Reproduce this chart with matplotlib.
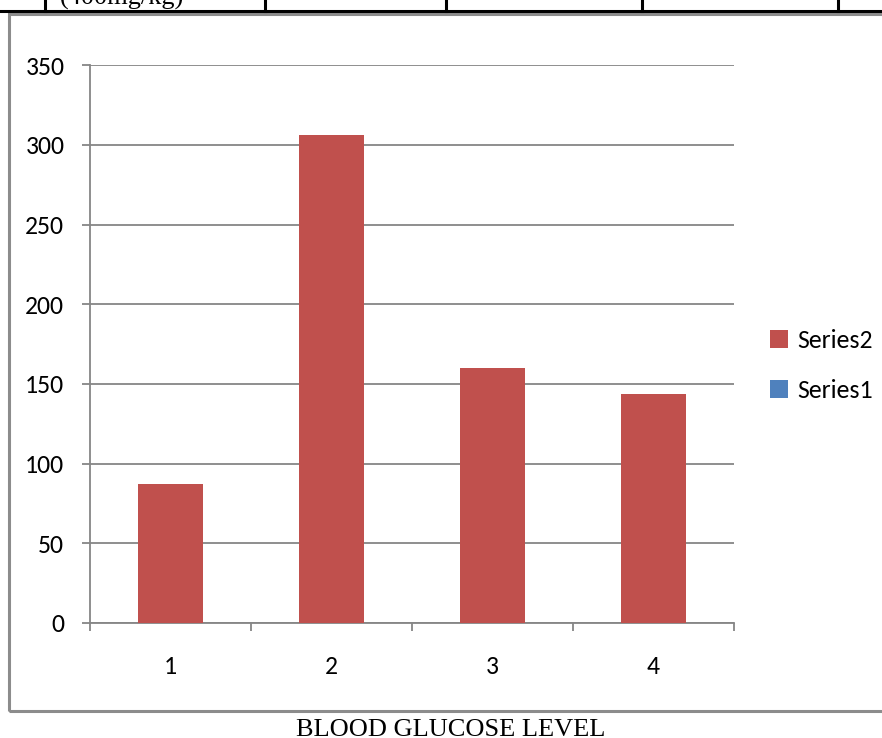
import matplotlib
matplotlib.use("Agg")
import matplotlib.pyplot as plt
from matplotlib.patches import Rectangle, Patch
from matplotlib.lines import Line2D

categories = ["1", "2", "3", "4"]
series2 = [87, 306, 160, 144]
series_names = ["Series2", "Series1"]
yticks = [0, 50, 100, 150, 200, 250, 300, 350]
caption = "BLOOD GLUCOSE LEVEL"
table_cell_text = "(400mg/kg)"

RED = "#C0504D"
BLUE = "#4F81BD"
GRID = "#868686"

plt.rcParams["font.family"] = ["Carlito", "Lato", "DejaVu Sans"]

W, H = 882, 738
fig = plt.figure(figsize=(W / 100, H / 100), dpi=100)

def fx(px):
    return px / W

def fy(py):
    return 1 - py / H

# table row fragment at the top of the page
fig.add_artist(Line2D([0, 1], [fy(10.5), fy(10.5)], color="black", lw=2.2,
                      transform=fig.transFigure))
for xv in [45, 265, 446, 642, 838]:
    fig.add_artist(Line2D([fx(xv), fx(xv)], [fy(0), fy(10.5)], color="black",
                          lw=2.2, transform=fig.transFigure))
fig.text(fx(60), fy(5), table_cell_text, family=["Liberation Serif"],
         fontsize=19, ha="left", va="baseline")

# chart frame
fig.add_artist(Rectangle((fx(8.5), fy(711)), fx(900), fy(13.5) - fy(711),
                         fill=False, edgecolor="#8C8C8C", lw=2.2,
                         transform=fig.transFigure))

ax = fig.add_axes([fx(90), fy(623), fx(734) - fx(90), fy(65.3) - fy(623)])
x = list(range(1, len(categories) + 1))
ax.bar(x, series2, width=0.4, color=RED, zorder=3)
ax.set_xlim(0.5, len(categories) + 0.5)
ax.set_ylim(0, 350)
ax.set_yticks(yticks)
ax.set_yticklabels([str(v) for v in yticks])
ax.yaxis.grid(True, color=GRID, lw=1.3, zorder=0)
ax.set_axisbelow(True)

for s in ["top", "right"]:
    ax.spines[s].set_visible(False)
for s in ["left", "bottom"]:
    ax.spines[s].set_color(GRID)
    ax.spines[s].set_linewidth(1.3)

ax.tick_params(axis="y", direction="out", length=6, width=1.3, color=GRID,
               pad=12.5, labelsize=18.5)
# category boundaries carry the tick marks, labels sit at centers
ax.set_xticks([i + 0.5 for i in range(len(categories) + 1)])
ax.set_xticklabels([])
ax.set_xticks(x, minor=True)
ax.set_xticklabels(categories, minor=True)
ax.tick_params(axis="x", which="major", direction="out", length=6, width=1.3,
               color=GRID)
ax.tick_params(axis="x", which="minor", length=0, pad=23, labelsize=18.5)

handles = [Patch(facecolor=RED, edgecolor="none"),
           Patch(facecolor=BLUE, edgecolor="none")]
fig.legend(handles, series_names, loc="upper left",
           bbox_to_anchor=(fx(747), fy(306)), frameon=False, fontsize=18.5,
           handlelength=0.7, handleheight=0.7, handletextpad=0.35,
           labelspacing=1.05)

fig.text(0.5 + fx(10), fy(736), caption, family=["Liberation Serif"],
         fontsize=19, ha="center", va="baseline")

fig.savefig("out.png", dpi=100)
